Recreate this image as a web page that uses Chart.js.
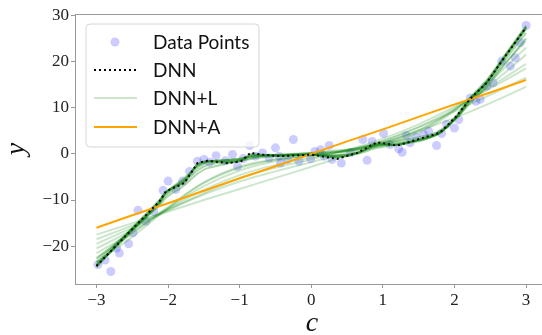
<!DOCTYPE html>
<html><head><meta charset="utf-8">
<script src="https://cdn.jsdelivr.net/npm/chart.js@4"></script>
<style>html,body{margin:0;padding:0;background:#fff;}</style>
</head><body>
<canvas id="c" width="542" height="335" style="display:block;width:542px;height:335px"></canvas>
<script>
// ---- data ----
const xTicks = [-3, -2, -1, 0, 1, 2, 3];
const yTicks = [-20, -10, 0, 10, 20, 30];

const ptC = [-2.98,-2.88,-2.8,-2.72,-2.68,-2.55,-2.49,-2.42,-2.31,-2.2,-2.07,-2.0,-1.89,-1.8,-1.7,-1.59,-1.5,-1.42,-1.33,-1.2,-1.1,-1.03,-0.95,-0.86,-0.78,-0.68,-0.59,-0.5,-0.45,-0.43,-0.33,-0.25,-0.17,-0.01,0.05,0.13,0.18,0.25,0.29,0.42,0.55,0.72,0.78,0.85,1.01,1.1,1.22,1.27,1.33,1.38,1.46,1.57,1.64,1.75,1.82,1.89,2.0,2.06,2.22,2.3,2.36,2.45,2.54,2.66,2.78,2.85,2.92,3.0];
const ptY = [-24.0,-23.0,-25.5,-20.4,-21.5,-19.5,-17.1,-12.2,-14.6,-12.5,-7.9,-5.9,-7.7,-5.9,-3.8,-1.6,-1.2,-1.8,-0.4,-1.5,-0.15,-2.7,-1.0,1.8,-0.5,0.2,-0.9,1.3,-0.5,-2.0,-1.2,3.1,-1.6,-1.1,0.5,0.9,-0.5,1.8,-1.2,-2.0,0.3,3.1,-1.4,2.7,4.4,2.0,1.1,0.35,4.0,2.4,3.7,4.2,4.9,1.8,4.4,6.4,5.6,7.4,12.1,11.4,11.8,14.7,15.4,20.1,19.0,20.8,24.1,27.8];

const dnnC = [-3.0,-2.5,-2.12,-2.03,-1.77,-1.59,-1.45,-1.17,-0.98,-0.85,-0.71,-0.43,0.0,0.36,0.64,0.92,1.2,1.57,1.8,2.03,2.22,2.45,2.68,3.0];
const dnnY = [-24.3,-16.3,-10.3,-8.1,-6.3,-2.0,-1.5,-2.0,-1.6,0.2,-0.15,-0.5,-0.15,-1.1,0.2,2.5,1.8,3.5,4.6,8.2,11.9,15.4,20.5,27.4];

// DNN+L runs that stay close to the DNN (same c grid as the DNN)
const lClose1 = [-24.0,-16.5,-10.6,-8.6,-5.6,-3.0,-1.9,-1.4,-1.0,-0.6,-0.4,-0.2,-0.1,-0.3,0.3,1.6,2.2,3.1,4.6,7.8,11.7,15.5,20.4,27.0];
const lClose2 = [-24.6,-16.0,-10.0,-8.3,-5.2,-2.7,-1.7,-1.3,-1.0,-0.5,-0.3,-0.3,-0.2,-0.5,0.0,1.3,2.0,3.0,4.8,8.3,12.2,16.0,20.9,27.8];
const lClose3 = [-23.5,-16.2,-10.8,-9.0,-6.2,-3.6,-2.4,-1.8,-1.4,-0.9,-0.6,-0.2,0.2,0.4,0.9,1.9,2.4,3.4,4.8,7.8,11.3,15.0,19.8,26.2];
const lClose4 = [-24.2,-16.8,-10.5,-8.4,-5.5,-2.5,-1.6,-1.4,-1.2,-0.6,-0.4,-0.3,-0.1,-0.4,0.2,1.8,2.0,3.3,4.5,8.0,11.8,15.6,20.6,27.3];
const lClose5 = [-22.8,-16.4,-11.2,-9.5,-6.8,-4.3,-3.1,-2.1,-1.5,-1.1,-0.8,-0.4,0.2,0.7,1.2,2.2,2.8,3.8,5.1,7.8,11.0,14.5,19.0,25.0];
const lClose6 = [-24.4,-16.2,-10.2,-8.2,-5.9,-2.3,-1.6,-1.7,-1.4,-0.3,-0.2,-0.4,-0.2,-0.7,0.1,2.0,1.9,3.3,4.6,8.1,12.0,15.5,20.6,27.5];
const lClose7 = [-24.1,-16.4,-10.4,-8.3,-6.0,-2.2,-1.6,-1.8,-1.5,-0.1,-0.2,-0.4,-0.2,-0.8,0.1,2.2,1.9,3.4,4.6,8.1,11.9,15.4,20.5,27.3];

// coarse c grid for the smoother DNN+L runs and DNN+A
const cGrid = [-3.0,-2.5,-2.0,-1.5,-1.0,-0.5,0.0,0.5,1.0,1.5,2.0,2.5,3.0];
const lRun1 = [-17.5,-15.0,-12.5,-10.0,-7.6,-5.2,-2.8,-0.3,2.3,5.0,7.8,11.0,14.5];
const lRun2 = [-18.5,-15.5,-12.0,-8.8,-6.0,-3.8,-1.8,0.3,2.8,5.8,9.2,12.8,16.5];
const lRun3 = [-19.5,-16.0,-12.3,-8.5,-5.3,-3.0,-1.2,0.8,3.3,6.4,10.2,14.2,18.5];
const lRun4 = [-21.5,-17.0,-11.8,-7.0,-3.6,-1.6,-0.4,0.8,2.5,5.2,9.5,15.0,21.5];
const lRun5 = [-22.5,-17.3,-11.5,-6.3,-3.0,-1.3,-0.3,0.7,2.3,5.0,9.6,15.8,23.0];
const lRun6 = [-23.5,-18.0,-11.8,-6.2,-2.8,-1.2,-0.2,0.6,2.0,4.6,9.3,16.3,24.5];
const lRun7 = [-20.5,-16.5,-12.0,-7.8,-4.6,-2.4,-0.8,0.8,2.8,5.8,9.8,14.5,19.5];
const dnnAY = [-16.0,-13.3,-10.7,-8.0,-5.3,-2.7,0.0,2.7,5.3,8.0,10.7,13.3,16.0];

// ---- build ----
const zip = (xs, ys) => xs.map((x, i) => ({x: x, y: ys[i]}));
const LGREEN = 'rgba(0,128,0,0.2)';
const datasets = [];
datasets.push({label:'Data Points', data: zip(ptC, ptY), pointRadius: 4.5, pointBackgroundColor:'rgba(0,0,255,0.2)', pointBorderWidth:0, showLine:false, order:100});
[lRun1,lRun2,lRun3,lRun4,lRun5,lRun6,lRun7].forEach(arr => datasets.push({label:'DNN+L', data: zip(cGrid, arr), showLine:true, borderColor: LGREEN, borderWidth:2, pointRadius:0, tension:0.4, order:50}));
[lClose1,lClose2,lClose3,lClose4,lClose5,lClose6,lClose7].forEach(arr => datasets.push({label:'DNN+L', data: zip(dnnC, arr), showLine:true, borderColor: 'rgba(0,128,0,0.33)', borderWidth:2, pointRadius:0, tension:0.3, order:40}));
datasets.push({label:'DNN+A', data: zip(cGrid, dnnAY), showLine:true, borderColor:'#ffa500', borderWidth:2, pointRadius:0, tension:0.3, order:2});
datasets.push({label:'DNN', data: zip(dnnC, dnnY), showLine:true, borderColor:'#000', borderWidth:2, borderDash:[2,3], pointRadius:0, tension:0, order:1});

const tickFmt = v => (v < 0 ? '\u2212' + Math.abs(v) : String(v));
const SERIF = '"Liberation Serif", "DejaVu Serif", serif';
const tickFont = {family:SERIF, size:17};

const extras = {
  id:'extras',
  afterDraw(chart){
    const ctx = chart.ctx, a = chart.chartArea;
    ctx.save();
    // top spine and the bottom spine running on to the canvas edge
    ctx.strokeStyle = '#999'; ctx.lineWidth = 1;
    ctx.beginPath(); ctx.moveTo(a.left, a.top + 0.5); ctx.lineTo(542, a.top + 0.5); ctx.stroke();
    ctx.beginPath(); ctx.moveTo(a.right - 1, a.bottom + 0.5); ctx.lineTo(542, a.bottom + 0.5); ctx.stroke();
    // x axis title
    ctx.fillStyle = '#111';
    ctx.font = 'italic 28px ' + SERIF;
    ctx.textAlign = 'center'; ctx.textBaseline = 'alphabetic';
    ctx.fillText('c', 312, 331);
    // legend box
    const bx = 86, by = 24, bw = 173, bh = 123, r = 4;
    ctx.beginPath();
    ctx.moveTo(bx + r, by); ctx.lineTo(bx + bw - r, by); ctx.quadraticCurveTo(bx + bw, by, bx + bw, by + r);
    ctx.lineTo(bx + bw, by + bh - r); ctx.quadraticCurveTo(bx + bw, by + bh, bx + bw - r, by + bh);
    ctx.lineTo(bx + r, by + bh); ctx.quadraticCurveTo(bx, by + bh, bx, by + bh - r);
    ctx.lineTo(bx, by + r); ctx.quadraticCurveTo(bx, by, bx + r, by);
    ctx.closePath();
    ctx.fillStyle = 'rgba(255,255,255,0.8)'; ctx.fill();
    ctx.strokeStyle = '#d6d6d6'; ctx.lineWidth = 1; ctx.stroke();
    const rows = [42, 70, 98, 127];
    const labels = ['Data Points', 'DNN', 'DNN+L', 'DNN+A'];
    ctx.fillStyle = 'rgba(0,0,255,0.2)';
    ctx.beginPath(); ctx.arc(115, rows[0], 4.5, 0, Math.PI * 2); ctx.fill();
    ctx.setLineDash([2,3]); ctx.strokeStyle = '#000'; ctx.lineWidth = 2;
    ctx.beginPath(); ctx.moveTo(94, rows[1]); ctx.lineTo(136, rows[1]); ctx.stroke();
    ctx.setLineDash([]);
    ctx.strokeStyle = 'rgba(0,128,0,0.2)';
    ctx.beginPath(); ctx.moveTo(94, rows[2]); ctx.lineTo(137, rows[2]); ctx.stroke();
    ctx.strokeStyle = '#ffa500';
    ctx.beginPath(); ctx.moveTo(94, rows[3]); ctx.lineTo(137, rows[3]); ctx.stroke();
    ctx.fillStyle = '#111';
    ctx.font = '19px Lato, "Open Sans", sans-serif';
    ctx.textBaseline = 'middle'; ctx.textAlign = 'left';
    labels.forEach((t, i) => ctx.fillText(t, 153, rows[i] + 1));
    ctx.restore();
  }
};

new Chart(document.getElementById('c'), {
  type:'scatter',
  data:{datasets: datasets},
  options:{
    responsive:false, animation:false, devicePixelRatio:1,
    layout:{padding:{top:14, right:0, left:0, bottom:0}},
    plugins:{legend:{display:false}, tooltip:{enabled:false}},
    scales:{
      x:{type:'linear', min:-3.3, max:3.16,
        afterBuildTicks: s => { s.ticks = xTicks.map(v => ({value:v})); },
        afterFit: s => { s.height = 51; },
        ticks:{font:tickFont, color:'#222', padding:2, maxRotation:0, callback: tickFmt},
        grid:{drawOnChartArea:false, drawTicks:true, tickLength:4, color:'#999'},
        border:{display:true, color:'#999', width:1},
        title:{display:false}
      },
      y:{type:'linear', min:-28.2, max:30.3,
        afterBuildTicks: s => { s.ticks = yTicks.map(v => ({value:v})); },
        afterFit: s => { s.width = 75; },
        ticks:{font:tickFont, color:'#222', padding:2, callback: tickFmt},
        grid:{drawOnChartArea:false, drawTicks:true, tickLength:4, color:'#999'},
        border:{display:true, color:'#999', width:1},
        title:{display:true, text:'y', font:{family:SERIF, size:28, style:'italic'}, color:'#111', padding:{top:0, bottom:0}}
      }
    }
  },
  plugins:[extras]
});
</script>
</body></html>
